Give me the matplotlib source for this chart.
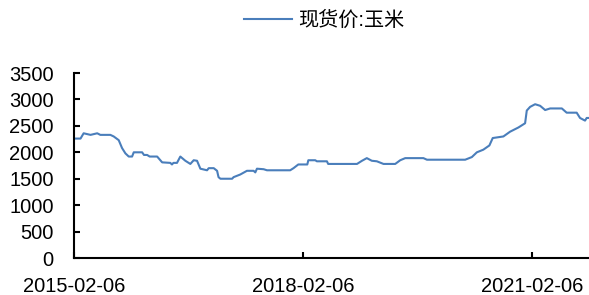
import pandas as pd
import matplotlib.pyplot as plt
import matplotlib.dates as mdates

# --- Data ---
dates = [
    "2015-02-06", "2015-03-07", "2015-03-22", "2015-04-24", "2015-05-26", "2015-06-10",
    "2015-07-28", "2015-08-13", "2015-09-06", "2015-09-22", "2015-10-08", "2015-10-24",
    "2015-11-09", "2015-11-17", "2015-12-27", "2016-01-05", "2016-01-20", "2016-02-01",
    "2016-03-08", "2016-04-01", "2016-05-10", "2016-05-18", "2016-05-25", "2016-06-11",
    "2016-06-27", "2016-07-21", "2016-08-14", "2016-08-30", "2016-09-15", "2016-10-01",
    "2016-11-02", "2016-11-10", "2016-12-04", "2016-12-20", "2016-12-27", "2017-01-05",
    "2017-03-02", "2017-03-09", "2017-04-10", "2017-05-12", "2017-06-13", "2017-06-21",
    "2017-06-29", "2017-07-31", "2017-08-16", "2017-12-05", "2017-12-21", "2018-01-13",
    "2018-02-25", "2018-03-02", "2018-04-04", "2018-04-12", "2018-05-30", "2018-06-05",
    "2018-10-21", "2018-11-14", "2018-12-07", "2018-12-31", "2019-01-24", "2019-02-25",
    "2019-04-22", "2019-05-16", "2019-06-09", "2019-09-04", "2019-09-21", "2020-02-11",
    "2020-03-22", "2020-04-23", "2020-05-17", "2020-06-17", "2020-07-16", "2020-08-01",
    "2020-09-21", "2020-10-23", "2020-12-02", "2021-01-03", "2021-01-11", "2021-01-27",
    "2021-02-20", "2021-03-16", "2021-04-09", "2021-05-03", "2021-06-28", "2021-07-21",
    "2021-09-07", "2021-09-23", "2021-10-17", "2021-10-25", "2021-11-05",
]
prices = [
    2260, 2260, 2360, 2330, 2360, 2330,
    2330, 2300, 2230, 2080, 1980, 1920,
    1920, 2000, 2000, 1950, 1950, 1920,
    1920, 1810, 1800, 1770, 1800, 1800,
    1920, 1840, 1780, 1850, 1840, 1690,
    1660, 1700, 1700, 1650, 1530, 1500,
    1500, 1530, 1580, 1650, 1650, 1620,
    1690, 1680, 1660, 1660, 1700, 1770,
    1770, 1850, 1850, 1830, 1830, 1780,
    1780, 1840, 1890, 1840, 1830, 1780,
    1780, 1850, 1890, 1890, 1860, 1860,
    1860, 1910, 2000, 2050, 2130, 2270,
    2300, 2390, 2470, 2550, 2790, 2860,
    2910, 2880, 2800, 2830, 2830, 2750,
    2750, 2650, 2600, 2650, 2650,
]
tick_dates = ["2015-02-06", "2018-02-06", "2021-02-06"]
y_ticks = [0, 500, 1000, 1500, 2000, 2500, 3000, 3500]
series_name = "现货价:玉米"

plt.rcParams['font.family'] = ['Liberation Sans', 'Noto Sans CJK SC', 'DejaVu Sans']

x = pd.to_datetime(dates)

fig = plt.figure(figsize=(5.89, 2.95), dpi=100)
ax = fig.add_axes([0.1264, 0.1254, 0.8736, 0.627])

ax.plot(x, prices, color='#4a7ebb', linewidth=1.5, label=series_name)

ax.set_xlim(pd.Timestamp("2015-02-06"), pd.Timestamp("2021-11-05"))
ax.set_ylim(0, 3500)
ax.set_yticks(y_ticks)
ax.set_xticks(pd.to_datetime(tick_dates))
ax.xaxis.set_major_formatter(mdates.DateFormatter("%Y-%m-%d"))

for side in ('top', 'right'):
    ax.spines[side].set_visible(False)
for side in ('left', 'bottom'):
    ax.spines[side].set_linewidth(1.5)

ax.tick_params(axis='y', direction='in', length=4.5, width=1.5, labelsize=14.5, pad=15)
ax.tick_params(axis='x', direction='in', length=4.5, width=1.5, labelsize=14.5, pad=14)

fig.legend(loc='center', bbox_to_anchor=(0.55, 0.932), frameon=False,
           fontsize=14.5, handlelength=2.4, handletextpad=0.3)

fig.savefig("out.png", dpi=100)
